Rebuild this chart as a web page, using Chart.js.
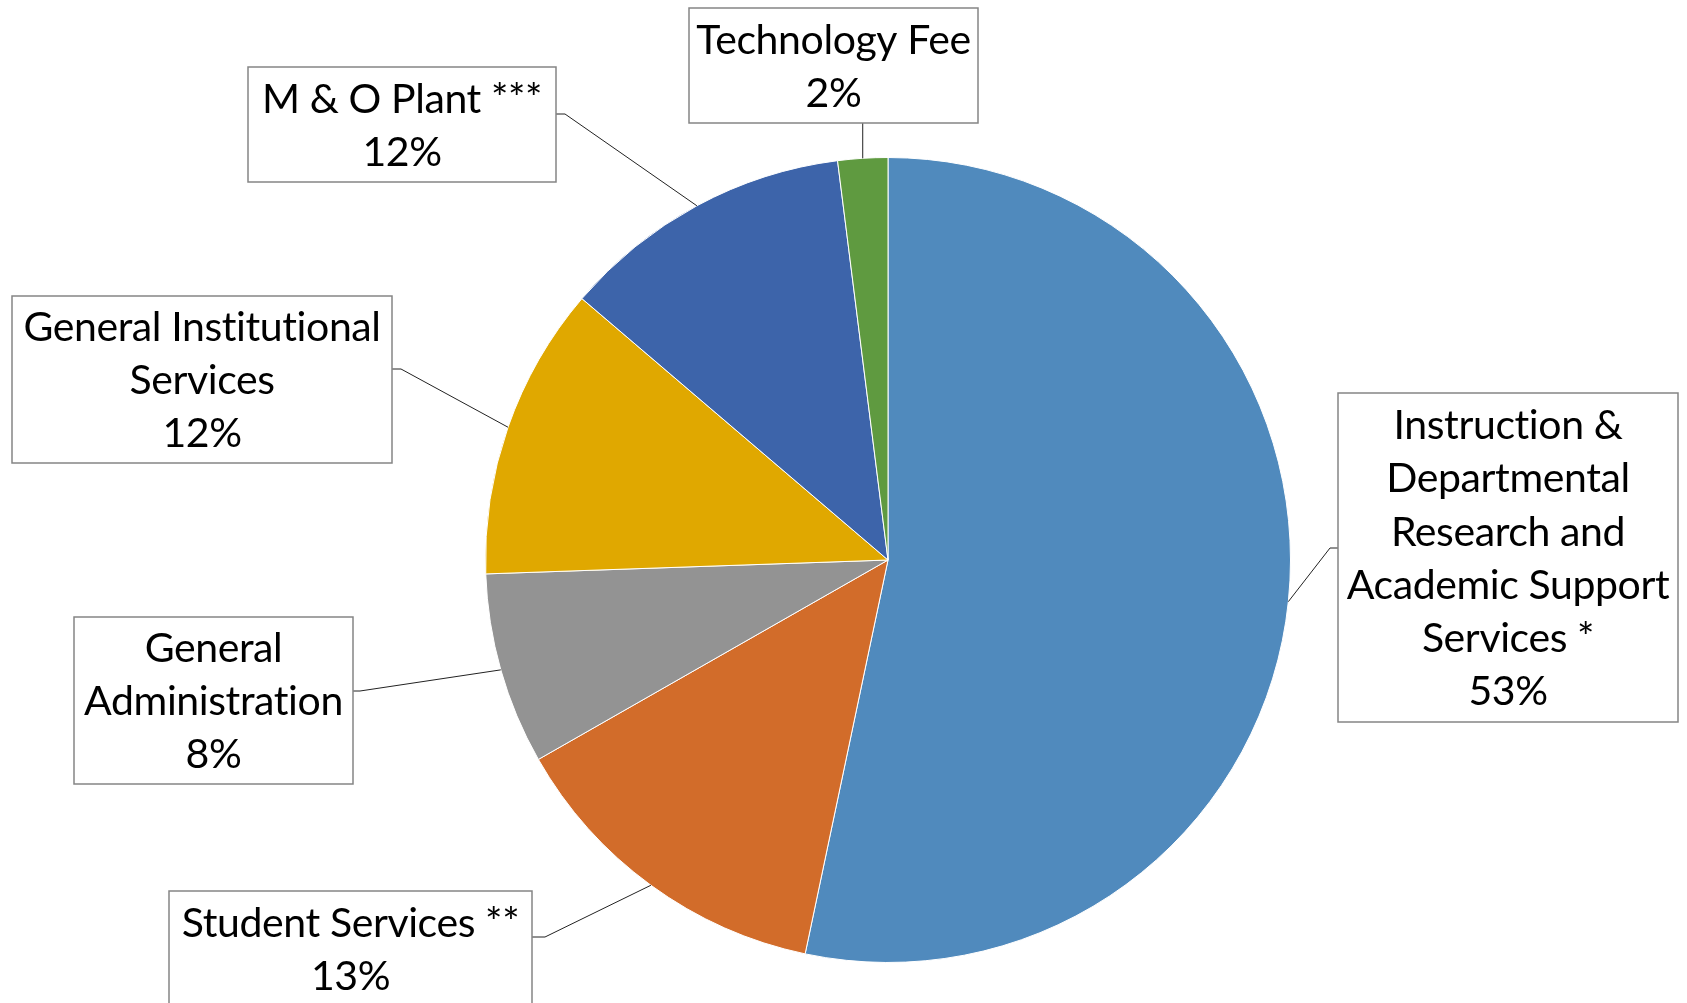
<!DOCTYPE html>
<html>
<head>
<meta charset="utf-8">
<script src="https://cdn.jsdelivr.net/npm/chart.js@4"></script>
<style>
  html, body { margin: 0; padding: 0; background: #ffffff; }
  #wrap { width: 1687px; height: 1003px; position: relative; }
</style>
</head>
<body>
<div id="wrap"><canvas id="budgetPieChart"></canvas></div>
<script>
// data (percent of total)
const categories = [
  "Instruction & Departmental Research and Academic Support Services *",
  "Student Services **",
  "General Administration",
  "General Institutional Services",
  "M & O Plant ***",
  "Technology Fee",
];
const shares = [53.3, 13.45, 7.7, 11.8, 11.75, 2.0];
const sliceColors = ["#508abd", "#d26c2a", "#939393", "#e0a800", "#3d64aa", "#5f9a40"];
const labelLines = [
  ["Instruction &", "Departmental", "Research and", "Academic Support", "Services *"],
  ["Student Services **"],
  ["General", "Administration"],
  ["General Institutional", "Services"],
  ["M & O Plant ***"],
  ["Technology Fee"],
];

// callout boxes: where each label sits and which side its leader leaves from
const calloutLayout = [
  { x: 1338, y: 393, w: 340, h: 329, side: "left", ay: 548, stub: 8 },
  { x: 169, y: 891, w: 363, h: 115, side: "right", ay: 937, stub: 13 },
  { x: 74, y: 617, w: 279, h: 167, side: "right", ay: 691, stub: 7 },
  { x: 12, y: 296, w: 380, h: 167, side: "right", ay: 369, stub: 9 },
  { x: 248, y: 67, w: 308, h: 115, side: "right", ay: 114, stub: 9 },
  { x: 689, y: 8, w: 289, h: 115, side: "bottom" },
];

const FONT_SIZE = 41;
const LINE_H = 53.3;

const calloutPlugin = {
  id: "callouts",
  afterDraw(chart) {
    const ctx = chart.ctx;
    const arcs = chart.getDatasetMeta(0).data;
    ctx.save();
    arcs.forEach((arc, i) => {
      const b = calloutLayout[i];
      const mid = (arc.startAngle + arc.endAngle) / 2;
      const px = arc.x + Math.cos(mid) * arc.outerRadius;
      const py = arc.y + Math.sin(mid) * arc.outerRadius;
      ctx.strokeStyle = "#222222";
      ctx.lineWidth = 1;
      ctx.beginPath();
      if (b.side === "bottom") {
        ctx.moveTo(px, py);
        ctx.lineTo(px, b.y + b.h);
      } else {
        const ex = b.side === "left" ? b.x : b.x + b.w;
        const sx = b.side === "left" ? ex - b.stub : ex + b.stub;
        ctx.moveTo(px, py);
        ctx.lineTo(sx, b.ay);
        ctx.lineTo(ex, b.ay);
      }
      ctx.stroke();
    });

    ctx.font = FONT_SIZE + "px Lato, 'Open Sans', sans-serif";
    ctx.letterSpacing = "-0.4px"; // a touch narrower, and no "ti" ligature
    ctx.textAlign = "center";
    ctx.textBaseline = "alphabetic";
    const capH = FONT_SIZE * 0.7165;
    arcs.forEach((arc, i) => {
      const b = calloutLayout[i];
      ctx.fillStyle = "#ffffff";
      ctx.fillRect(b.x, b.y, b.w, b.h);
      ctx.strokeStyle = "#858585";
      ctx.lineWidth = 1.5;
      ctx.strokeRect(b.x, b.y, b.w, b.h);
      const lines = labelLines[i].concat([Math.round(shares[i]) + "%"]);
      const cx = b.x + b.w / 2;
      const cy = b.y + b.h / 2;
      ctx.fillStyle = "#000000";
      lines.forEach((t, k) => {
        const lc = cy + (k - (lines.length - 1) / 2) * LINE_H;
        ctx.fillText(t, cx, lc + capH / 2);
      });
    });
    ctx.restore();
  },
};

document.addEventListener("DOMContentLoaded", () => {
  const budgetPieChart = document.getElementById("budgetPieChart").getContext("2d");
  new Chart(budgetPieChart, {
    type: "pie",
    data: {
      labels: categories,
      datasets: [
        {
          data: shares,
          backgroundColor: sliceColors,
          borderColor: "#ffffff",
          borderWidth: 1,
        },
      ],
    },
    options: {
      responsive: true,
      maintainAspectRatio: false,
      animation: false,
      layout: { padding: { top: 157, bottom: 40, left: 485, right: 396 } },
      plugins: {
        legend: { display: false },
        tooltip: { enabled: false },
      },
    },
    plugins: [calloutPlugin],
  });
});
</script>
</body>
</html>
